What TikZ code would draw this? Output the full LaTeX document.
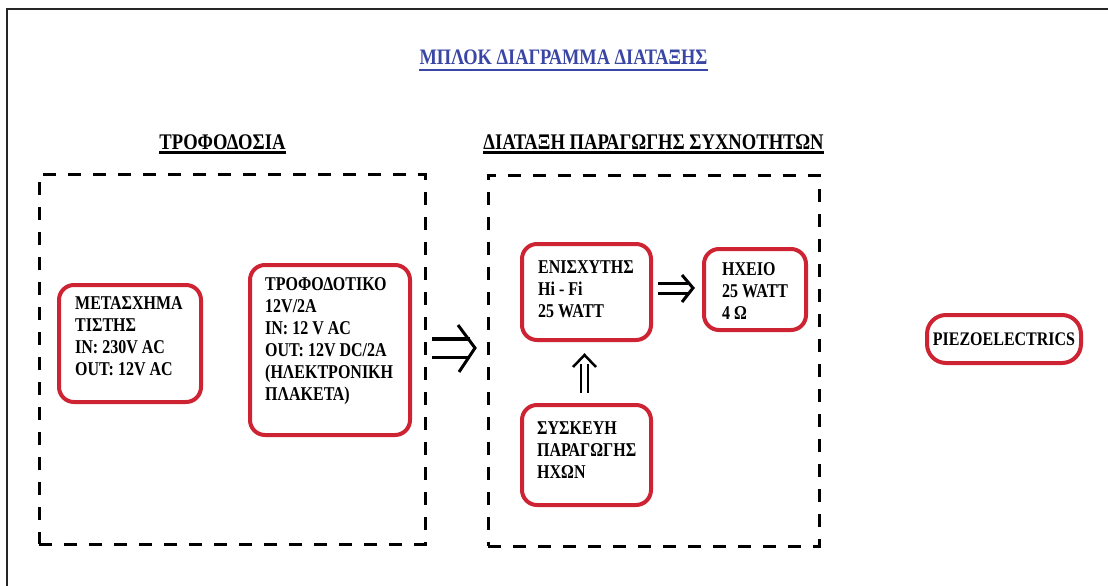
\documentclass[tikz,border=0pt]{standalone}
\usepackage{fontspec}
\setmainfont{Liberation Serif}
\usepackage{graphicx}
\usetikzlibrary{calc}
\definecolor{boxred}{RGB}{205,35,50}
\definecolor{titleblue}{RGB}{58,70,165}
\newcommand\stx[1]{\scalebox{1}[1.22]{\begin{tabular}{@{}l@{}}#1\end{tabular}}}
\newcommand\hstx[1]{\scalebox{1}[1.2]{#1}}
\begin{document}
\begin{tikzpicture}[x=1pt,y=-1pt,
  grp/.style={draw=black,line width=3pt,dash pattern=on 13pt off 12pt,inner sep=0pt},
  redbox/.style={draw=boxred,line width=4pt,rounded corners=15pt,inner sep=0pt},
  txt/.style={font=\bfseries\fontsize{16}{18}\selectfont,inner sep=0pt,anchor=west,align=left},
  head/.style={font=\bfseries\fontsize{18.6}{20}\selectfont,inner sep=0pt,anchor=base},
  shaft/.style={draw=black,double=white,line cap=butt},
  chev/.style={draw=black,line join=miter,line cap=butt}]
\useasboundingbox (0,0) rectangle (1108,586);
% frame
\draw[line width=2.2pt,black!85] (7,586) -- (7,9) -- (1108,9);
% title
\node[head,font=\bfseries\fontsize{18.4}{20}\selectfont,text=titleblue] (title) at (563.5,65) {\hstx{ΜΠΛΟΚ ΔΙΑΓΡΑΜΜΑ ΔΙΑΤΑΞΗΣ}};
\draw[titleblue,line width=2pt] ([yshift=-5pt]title.base west) -- ([yshift=-5pt]title.base east);
% section headings
\node[head] (h1) at (222.5,149.5) {\hstx{ΤΡΟΦΟΔΟΣΙΑ}};
\draw[line width=2.5pt] ([yshift=-3pt]h1.base west) -- ([yshift=-3pt]h1.base east);
\node[head] (h2) at (653.5,149.5) {\hstx{ΔΙΑΤΑΞΗ ΠΑΡΑΓΩΓΗΣ ΣΥΧΝΟΤΗΤΩΝ}};
\draw[line width=2.5pt] ([yshift=-3pt]h2.base west) -- ([yshift=-3pt]h2.base east);
% dashed groups
\node[grp,minimum width=386pt,minimum height=370pt] (g1) at (232,359) {};
\node[grp,minimum width=331pt,minimum height=371pt] (g2) at (653.5,360.5) {};
% red boxes
\node[redbox,minimum width=142pt,minimum height=117pt] (m1) at (130,343.5) {};
\node[redbox,minimum width=160pt,minimum height=170pt] (m2) at (330,350) {};
\node[redbox,minimum width=129pt,minimum height=96pt] (m3) at (586.5,292) {};
\node[redbox,minimum width=102pt,minimum height=81pt] (m4) at (755,289.5) {};
\node[redbox,minimum width=129pt,minimum height=100pt] (m5) at (586.5,455) {};
\node[redbox,rounded corners=19pt,minimum width=154pt,minimum height=48pt,
  font=\bfseries\fontsize{16}{18}\selectfont] (m6) at (1004,339) {\hstx{PIEZOELECTRICS}};
% texts
\node[txt] (t1) at (75,338.5) {\stx{ΜΕΤΑΣΧΗΜΑ\\ΤΙΣΤΗΣ\\IN: 230V AC\\OUT: 12V AC}};
\node[txt] (t2) at (265,341) {\stx{ΤΡΟΦΟΔΟΤΙΚΟ\\12V/2A\\IN: 12 V AC\\OUT: 12V DC/2A\\(ΗΛΕΚΤΡΟΝΙΚΗ\\ΠΛΑΚΕΤΑ)}};
\node[txt] (t3) at (538,291.5) {\stx{ΕΝΙΣΧΥΤΗΣ\\Hi - Fi\\25 WATT}};
\node[txt] (t4) at (722,293.5) {\stx{ΗΧΕΙΟ\\25 WATT\\4 Ω}};
\node[txt] (t5) at (537,452.5) {\stx{ΣΥΣΚΕΥΗ\\ΠΑΡΑΓΩΓΗΣ\\ΗΧΩΝ}};
% arrow g1 -> g2
\coordinate (a1s) at (432,348);
\coordinate (a1e) at (470,348);
\coordinate (a1t) at (475,348);
\draw[shaft,line width=3.5pt,double distance=15pt] (a1s) -- (a1e);
\draw[chev,line width=3pt] ($(a1t)+(-17,-23)$) -- (a1t) -- ($(a1t)+(-16,24)$);
% arrow m3 -> m4
\coordinate (a2s) at (658,288);
\coordinate (a2e) at (688,288);
\coordinate (a2t) at (693,288);
\draw[shaft,line width=3pt,double distance=7pt] (a2s) -- (a2e);
\draw[chev,line width=3pt] ($(a2t)+(-11,-13)$) -- (a2t) -- ($(a2t)+(-11,14)$);
% arrow m5 -> m3
\coordinate (a3s) at (584.5,393);
\coordinate (a3e) at (584.5,364);
\coordinate (a3t) at (584.5,355);
\draw[shaft,line width=2.5pt,double distance=4.5pt] (a3s) -- (a3e);
\draw[chev,line width=2.5pt] ($(a3t)+(-11.5,12)$) -- (a3t) -- ($(a3t)+(11.5,12)$);
\end{tikzpicture}
\end{document}
